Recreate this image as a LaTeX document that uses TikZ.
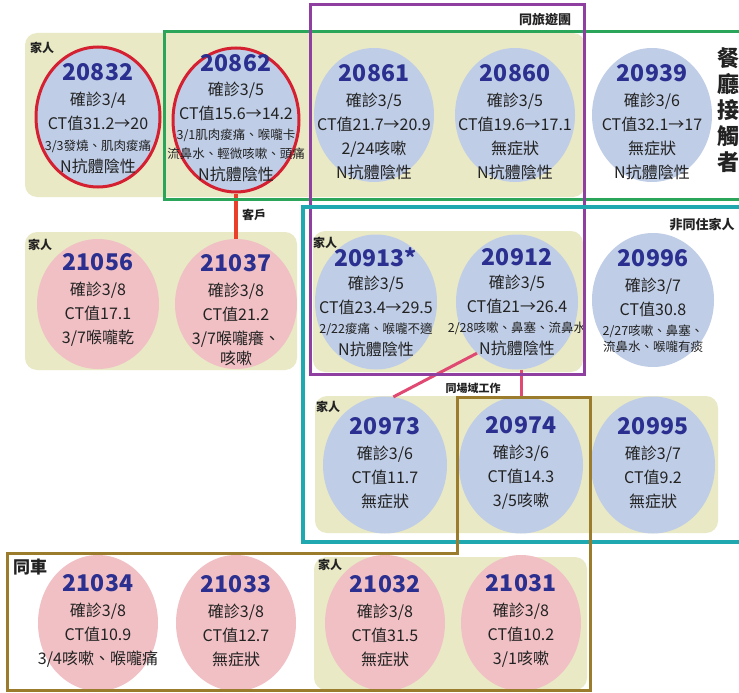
\documentclass[tikz,border=0pt]{standalone}
\usepackage{fontspec}
\setmainfont{Noto Sans CJK TC}
\usetikzlibrary{shapes.geometric}
\definecolor{cblue}{HTML}{BFCDE6}
\definecolor{cpink}{HTML}{F0C0C4}
\definecolor{cbeige}{HTML}{E9E9C6}
\definecolor{cred}{HTML}{D42030}
\definecolor{cgreen}{HTML}{2AA55A}
\definecolor{cpurple}{HTML}{8E3FA0}
\definecolor{cteal}{HTML}{1FA8B0}
\definecolor{cbrown}{HTML}{9B7B2C}
\definecolor{cnum}{HTML}{2B2F8F}
\definecolor{ctext}{HTML}{222222}
\definecolor{clink}{HTML}{E04A72}
\definecolor{cclient}{HTML}{E8402A}
\newcommand\casenum[1]{{\fontsize{23}{23}\selectfont\bfseries\color{cnum}#1}}
\newcommand\smalltxt[1]{{\fontsize{12.5}{14}\selectfont #1}}
\newcommand\casenode[6]{%
  \node[casebase,#4] (#1) at (#2,#3) {};
  \node[casetext] (#1t) at (#2,#5) {#6};}
\tikzset{
  casebase/.style={ellipse, inner sep=0pt, minimum width=120pt, minimum height=134pt},
  bluec/.style={fill=cblue},
  pinkc/.style={fill=cpink},
  redring/.style={draw=cred, line width=3pt},
  casetext/.style={align=center, text=ctext, inner sep=0pt, font=\fontsize{16}{24}\selectfont},
  beigebox/.style={fill=cbeige, rounded corners=12pt},
  grouplabel/.style={text=ctext, inner sep=0pt, font=\fontsize{12}{12}\selectfont\bfseries},
  frame/.style={line width=3pt},
}
\begin{document}
\begin{tikzpicture}[x=1pt,y=-1pt]
\useasboundingbox[fill=white] (0,0) rectangle (739,693);
% beige backgrounds
\path[beigebox] (25,33) rectangle (585,197);
\path[beigebox] (25,232) rectangle (297,370);
\path[beigebox] (313,231) rectangle (583,372);
\path[beigebox] (315,396) rectangle (718,533);
\path[beigebox] (314,557) rectangle (587,690);
% row 1
\casenode{c20832}{98}{117}{bluec,redring,minimum width=124pt,minimum height=140pt}{119}{\casenum{20832}\\[1pt]確診3/4\\CT值31.2→20\\[-3pt]\smalltxt{3/3發燒、肌肉痠痛}\\[-2pt]N抗體陰性}
\casenode{c20862}{236}{120}{bluec,redring,minimum width=126pt,minimum height=144pt}{118}{\casenum{20862}\\[0pt]確診3/5\\CT值15.6→14.2\\[-4pt]\smalltxt{3/1肌肉痠痛、喉嚨卡}\\[-5pt]\smalltxt{流鼻水、輕微咳嗽、頭痛}\\[-2pt]N抗體陰性}
\casenode{c20861}{374}{115}{bluec}{122}{\casenum{20861}\\[1pt]確診3/5\\CT值21.7→20.9\\2/24咳嗽\\N抗體陰性}
\casenode{c20860}{515}{115}{bluec}{122}{\casenum{20860}\\[1pt]確診3/5\\CT值19.6→17.1\\無症狀\\N抗體陰性}
\casenode{c20939}{652}{115}{bluec}{122}{\casenum{20939}\\[1pt]確診3/6\\CT值32.1→17\\無症狀\\N抗體陰性}
% row 2
\casenode{c21056}{98}{304}{pinkc,minimum width=122pt,minimum height=130pt}{300}{\casenum{21056}\\[1pt]確診3/8\\CT值17.1\\3/7喉嚨乾}
\casenode{c21037}{236}{304}{pinkc,minimum width=122pt,minimum height=130pt}{310}{\casenum{21037}\\[1pt]確診3/8\\CT值21.2\\3/7喉嚨癢、\\[-4pt]咳嗽}
\casenode{c20913}{376}{302}{bluec,minimum width=122pt,minimum height=135pt}{302}{\casenum{20913*}\\[-1pt]確診3/5\\CT值23.4→29.5\\[-4pt]\smalltxt{2/22痠痛、喉嚨不適}\\[-2pt]N抗體陰性}
\casenode{c20912}{517}{302}{bluec,minimum width=122pt,minimum height=135pt}{302}{\casenum{20912}\\[-1pt]確診3/5\\CT值21→26.4\\[-4pt]\smalltxt{2/28咳嗽、鼻塞、流鼻水}\\[-2pt]N抗體陰性}
\casenode{c20996}{653}{300}{bluec,minimum width=122pt,minimum height=134pt}{301}{\casenum{20996}\\[1pt]確診3/7\\CT值30.8\\[-4pt]\smalltxt{2/27咳嗽、鼻塞、}\\[-8pt]\smalltxt{流鼻水、喉嚨有痰}}
% row 3
\casenode{c20973}{385}{465}{bluec,minimum width=124pt,minimum height=137pt}{463}{\casenum{20973}\\[1pt]確診3/6\\CT值11.7\\無症狀}
\casenode{c20974}{521}{465}{bluec,minimum width=124pt,minimum height=137pt}{463}{\casenum{20974}\\[1pt]確診3/6\\CT值14.3\\3/5咳嗽}
\casenode{c20995}{653}{465}{bluec,minimum width=124pt,minimum height=137pt}{463}{\casenum{20995}\\[1pt]確診3/7\\CT值9.2\\無症狀}
% row 4
\casenode{c21034}{98}{623}{pinkc,minimum height=136pt}{621}{\casenum{21034}\\[1pt]確診3/8\\CT值10.9\\3/4咳嗽、喉嚨痛}
\casenode{c21033}{236}{623}{pinkc,minimum height=136pt}{621}{\casenum{21033}\\[1pt]確診3/8\\CT值12.7\\無症狀}
\casenode{c21032}{385}{623}{pinkc,minimum height=136pt}{621}{\casenum{21032}\\[1pt]確診3/8\\CT值31.5\\無症狀}
\casenode{c21031}{521}{623}{pinkc,minimum height=136pt}{621}{\casenum{21031}\\[1pt]確診3/8\\CT值10.2\\3/1咳嗽}
% connectors
\draw[cclient, line width=4pt] (c20862.south) -- (c21037.north);
\draw[clink, line width=3pt] (c20912.232) -- (c20973.83);
\draw[clink, line width=3pt] (c20974.north |- c20912.south) -- (c20974.north);
% frames
\draw[frame, cgreen] (164,32) rectangle (745,199);
\draw[frame, cpurple] (310,5) rectangle (584,374);
\draw[cteal, line width=4pt] (303,207) rectangle (745,542);
\draw[frame, cbrown] (457,397) -- (590,397) -- (590,690) -- (7,690) -- (7,553) -- (457,553) -- cycle;
% labels
\node[grouplabel] (l1) at (42,48) {家人};
\node[grouplabel] (l2) at (254,215) {客戶};
\node[grouplabel, font=\fontsize{13}{13}\selectfont\bfseries] (l3) at (545,20) {同旅遊團};
\node[grouplabel, align=center, font=\fontsize{22}{26}\selectfont\bfseries] (l4) at (728,110) {餐\\廳\\接\\觸\\者};
\node[grouplabel] (l5) at (40,245) {家人};
\node[grouplabel] (l6) at (325,243) {家人};
\node[grouplabel, font=\fontsize{13}{13}\selectfont\bfseries] (l7) at (702,225) {非同住家人};
\node[grouplabel, font=\fontsize{11}{11}\selectfont\bfseries] (l8) at (473,388) {同場域工作};
\node[grouplabel] (l9) at (328,407) {家人};
\node[grouplabel, font=\fontsize{17}{17}\selectfont\bfseries] (l10) at (30,567) {同車};
\node[grouplabel] (l11) at (330,565) {家人};
\end{tikzpicture}
\end{document}
